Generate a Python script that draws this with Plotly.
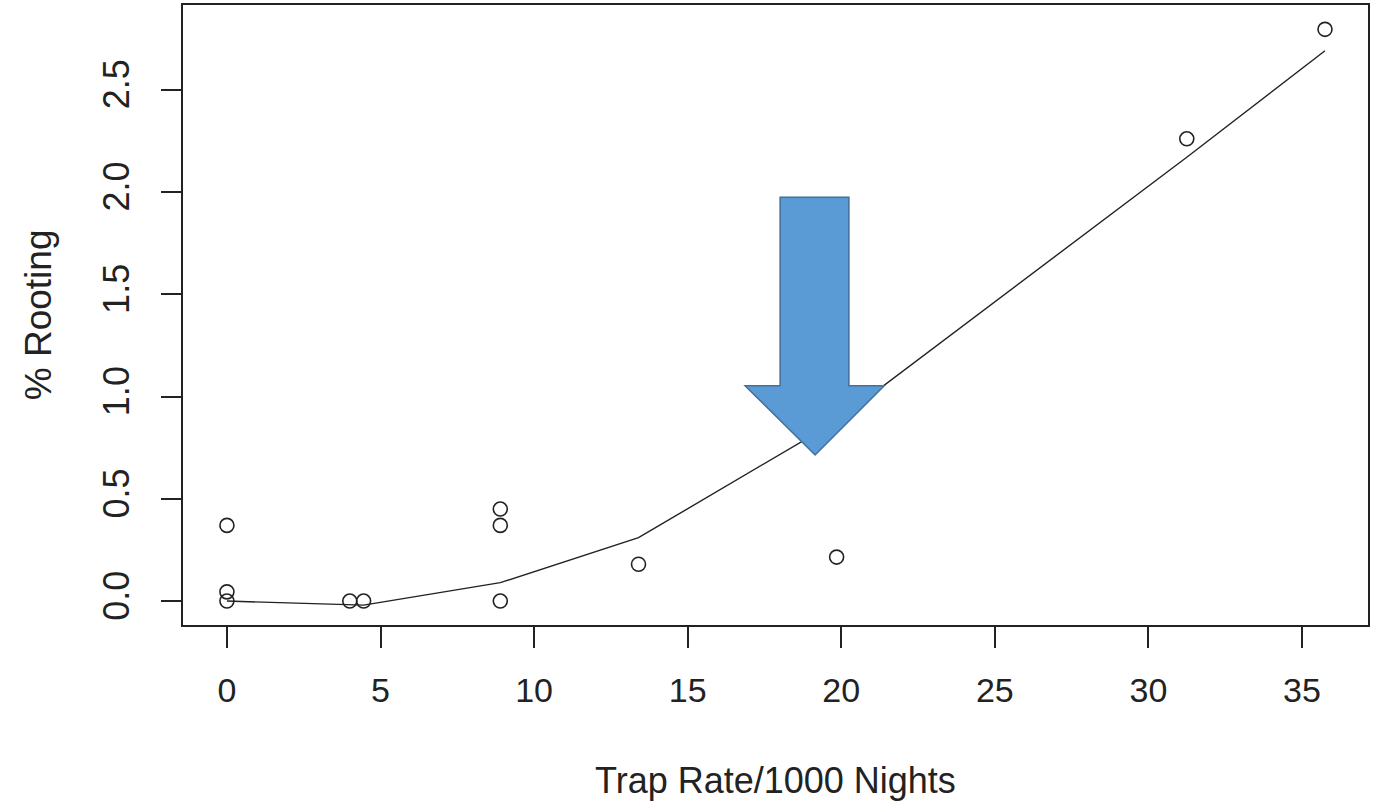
import plotly.graph_objects as go

# Observed trap rate vs. rooting
trap_rate = [0.0, 0.0, 0.0, 4.0, 4.45, 8.9, 8.9, 8.9, 13.4, 19.85, 31.25, 35.75]
rooting = [0.37, 0.045, 0.0, 0.0, 0.0, 0.45, 0.37, 0.0, 0.18, 0.215, 2.26, 2.795]

# Smoothed fit evaluated at the distinct trap rates
fit_x = [0.0, 4.0, 4.45, 8.9, 13.4, 19.85, 31.25, 35.75]
fit_y = [0.0, -0.02, -0.02, 0.09, 0.31, 0.88, 2.17, 2.69]

x_ticks = [0, 5, 10, 15, 20, 25, 30, 35]
y_ticks = [0.0, 0.5, 1.0, 1.5, 2.0, 2.5]
y_tick_text = ["0.0", "0.5", "1.0", "1.5", "2.0", "2.5"]

FONT = "Liberation Sans, Arial, sans-serif"
INK = "#222222"

fig = go.Figure()
fig.add_trace(go.Scatter(
    x=fit_x, y=fit_y, mode="lines",
    line=dict(color=INK, width=1.4), hoverinfo="skip", showlegend=False))
fig.add_trace(go.Scatter(
    x=trap_rate, y=rooting, mode="markers",
    marker=dict(symbol="circle-open", size=14, color=INK, line=dict(width=1.6)),
    showlegend=False))

# Highlight arrow pointing at the fitted curve
sx0, sx1, hx0, hx1, tipx = 18.01, 20.25, 16.87, 21.40, 19.15
ytop, yneck, ytip = 1.974, 1.053, 0.714
arrow_path = (f"M {sx0} {ytop} L {sx1} {ytop} L {sx1} {yneck} L {hx1} {yneck} "
              f"L {tipx} {ytip} L {hx0} {yneck} L {sx0} {yneck} Z")
fig.add_shape(type="path", path=arrow_path, xref="x", yref="y",
              fillcolor="#5B9BD5", line=dict(color="#41719C", width=1.5))

fig.update_layout(
    width=1373, height=802,
    margin=dict(l=183, r=3, t=5, b=177),
    paper_bgcolor="white", plot_bgcolor="white",
    font=dict(family=FONT, color=INK),
    xaxis=dict(
        range=[-1.43, 37.15], tickvals=x_ticks, ticks="outside", ticklen=21,
        tickwidth=1.5, tickcolor=INK, showgrid=False, zeroline=False,
        showline=True, linecolor=INK, linewidth=2, mirror=True,
        tickfont=dict(size=34, family=FONT, color=INK), ticklabelstandoff=13),
    yaxis=dict(
        range=[-0.117, 2.914], tickvals=y_ticks, ticktext=y_tick_text,
        ticks="outside", ticklen=20, tickwidth=1.5, tickcolor=INK,
        showgrid=False, zeroline=False, showline=True, linecolor=INK,
        linewidth=2, mirror=True, tickangle=-90,
        tickfont=dict(size=36, family=FONT, color=INK), ticklabelstandoff=18),
    annotations=[
        dict(text="Trap Rate/1000 Nights", xref="paper", yref="paper",
             x=0.5, y=(625 - 780) / 620, xanchor="center", yanchor="middle",
             showarrow=False, font=dict(size=36, family=FONT, color=INK)),
        dict(text="% Rooting", xref="paper", yref="paper",
             x=(38 - 183) / 1187, y=0.5, xanchor="center", yanchor="middle",
             textangle=-90, showarrow=False,
             font=dict(size=37, family=FONT, color=INK)),
    ],
)

fig.write_html("out.html")
